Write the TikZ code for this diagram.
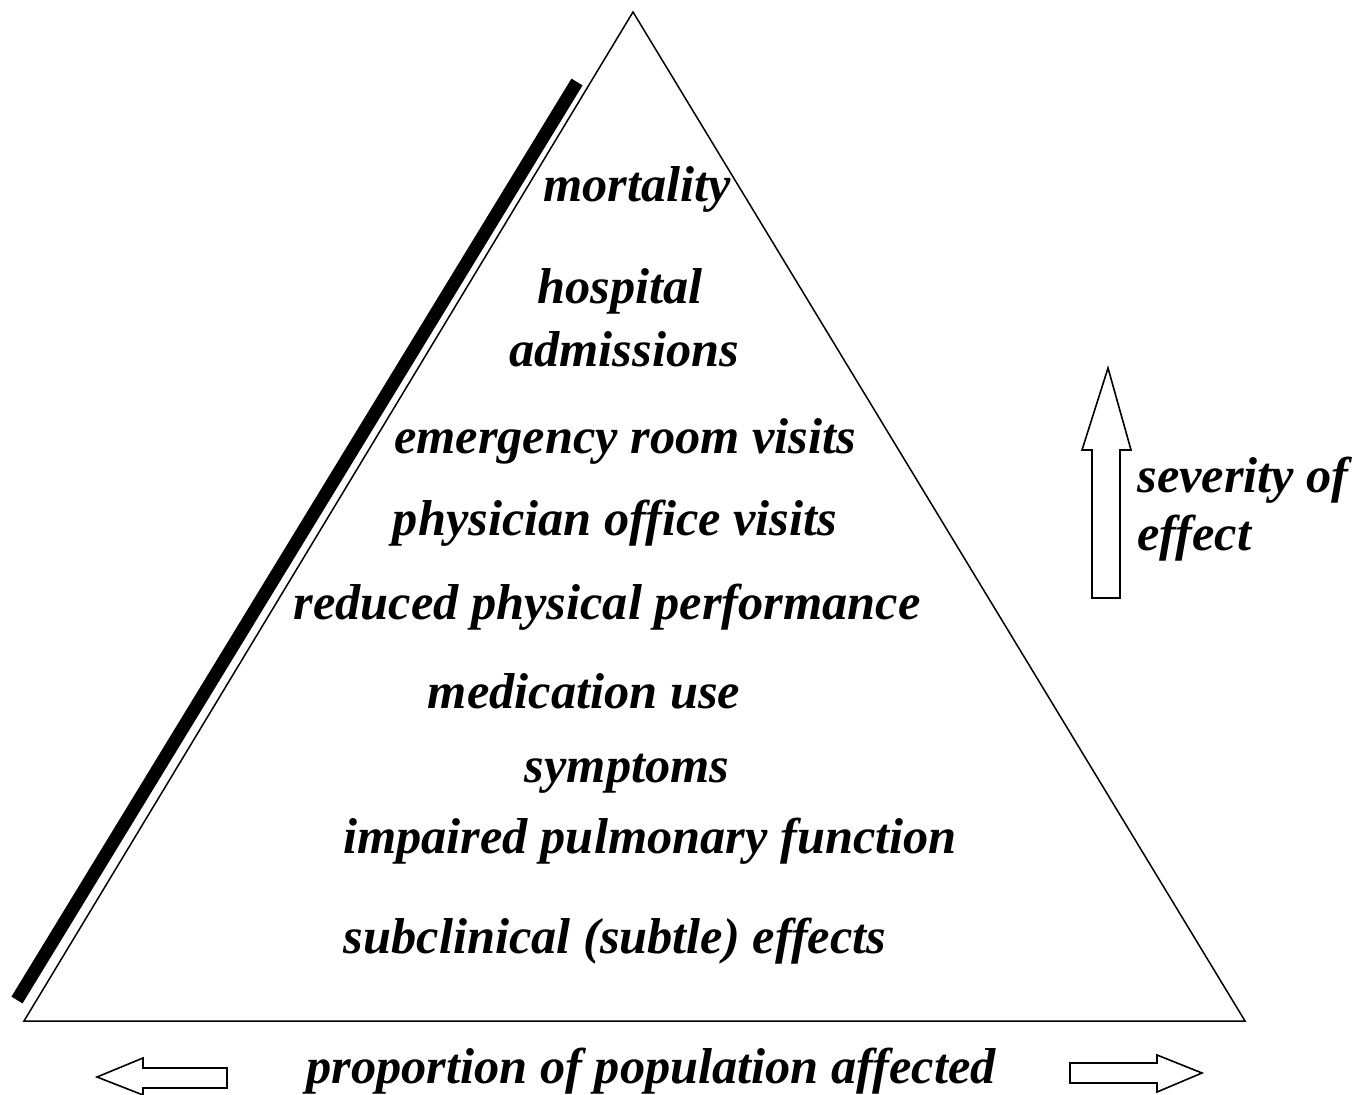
\documentclass[tikz,border=0pt]{standalone}
\usepackage{fontspec}
\setmainfont{Liberation Serif}
\usepackage{tikz}

\begin{document}
\begin{tikzpicture}[x=0.5pt, y=-0.5pt,
  lbl/.style={font=\fontsize{25.2}{29}\selectfont\bfseries\itshape, inner sep=0pt},
  hollow/.style={draw, line width=0.8pt, fill=white}]

  \useasboundingbox (0,0) rectangle (1369,1095);

  \coordinate (apex) at (633,12);
  \coordinate (bl) at (24,1021);
  \coordinate (br) at (1245,1021);
  \draw [line width=0.75pt] (apex) -- (bl) -- (br) -- cycle;

  \coordinate (barT) at (577,82);
  \coordinate (barB) at (17,1000);
  \draw [line width=6.5pt] (barT) -- (barB);

  \node [lbl] (mort) at (637,189) {mortality};
  \node [lbl] (hosp) at (620,291) {hospital};
  \node [lbl] (adm) at (624,349) {admissions};
  \node [lbl] (er) at (625,441) {emergency room visits};
  \node [lbl] (phys) at (615,523) {physician office visits};
  \node [lbl] (perf) at (607,607) {reduced physical performance};
  \node [lbl] (med) at (584,691) {medication use};
  \node [lbl] (sympt) at (627,774) {symptoms};
  \node [lbl] (pulm) at (650,841) {impaired pulmonary function};
  \node [lbl] (subcl) at (615,941) {subclinical (subtle) effects};

  \node [lbl] (prop) at (651,1071) {proportion of population affected};
  \node [lbl, anchor=west, align=left] (sev) at (1137,509) {severity of\\effect};

  % hollow arrows
  \draw [hollow] (1092,598) -- (1092,450) -- (1082,450) -- (1108,368)
    -- (1131,450) -- (1120,450) -- (1120,598) -- cycle;
  \draw [hollow] (227,1068) -- (143,1068) -- (143,1058) -- (97,1077)
    -- (143,1095) -- (143,1088) -- (227,1088) -- cycle;
  \draw [hollow] (1070,1063) -- (1157,1063) -- (1157,1055) -- (1202,1073)
    -- (1157,1092) -- (1157,1083) -- (1070,1083) -- cycle;

\end{tikzpicture}
\end{document}
